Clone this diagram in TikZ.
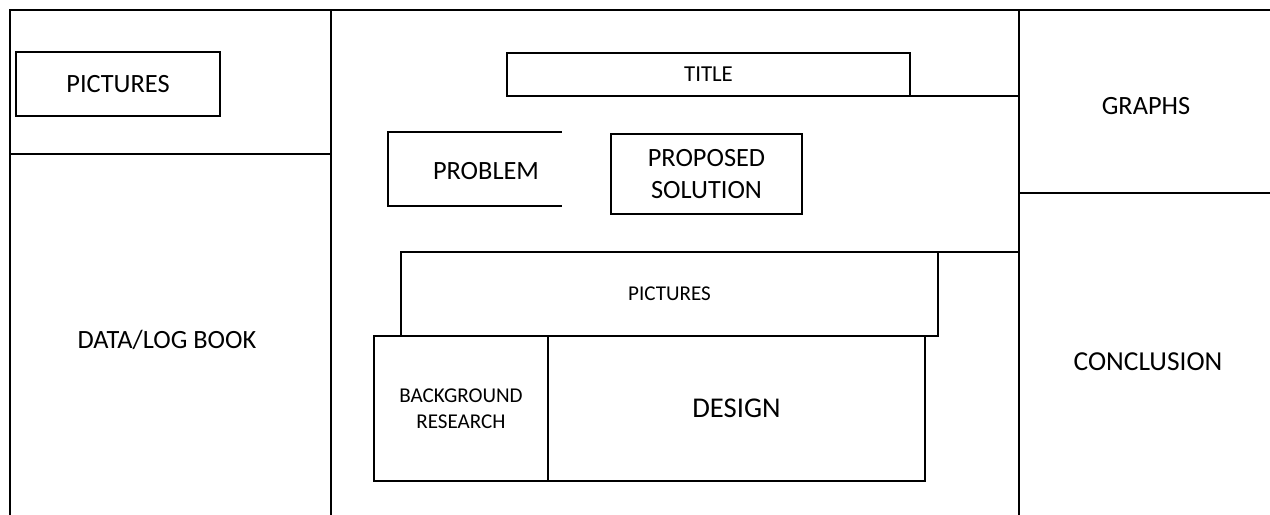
\documentclass[tikz,border=0pt]{standalone}
\usepackage{fontspec}
\setmainfont{Carlito}
\usetikzlibrary{positioning,calc}

\begin{document}
\begin{tikzpicture}[
  x=0.02cm, y=-0.02cm,
  frame/.style={line width=1.3pt, line cap=rect},
  box/.style={rectangle, draw, line width=1.3pt, inner sep=0pt, outer sep=0pt,
              align=center},
  lbl/.style={inner sep=0pt, align=center},
  big/.style={font=\fontsize{15}{18}\selectfont},
  small/.style={font=\fontsize{12}{14.8}\selectfont}
]
\useasboundingbox (0,0) rectangle (1270,514);

% Panel corners
\coordinate (nw) at (10,10);
\coordinate (ne) at (1270,10);
\coordinate (sw) at (10,514);
\coordinate (cl) at (331,10);
\coordinate (cr) at (1019,10);

% Panels
\draw[frame] (sw) -- (nw) -- (ne);
\draw[frame] (cl) -- (cl |- sw);
\draw[frame] (cr) -- (cr |- sw);
\draw[frame] (10,154) -- (331,154);
\draw[frame] (1019,193) -- (1270,193);

% Left panel
\node[box, big, minimum width=4.08cm, minimum height=1.28cm] (picsl) at (118,84) {PICTURES};
\node[lbl, big] (data) at (167,340) {DATA/LOG BOOK};

% Right panel
\node[lbl, big] (graphs) at (1146,106) {GRAPHS};
\node[lbl, font=\fontsize{15.6}{18}\selectfont] (concl) at (1148,362) {CONCLUSION};

% Center panel
\node[box, font=\fontsize{13}{16}\selectfont, minimum width=8.06cm, minimum height=0.86cm]
  (title) at (708.5,74.5) {TITLE};
\draw[frame] (title.south east) -- (title.south east -| cr);

\node[lbl, big] (problem) at (486,171) {PROBLEM};
\draw[frame] (561,132) -| (388,206) -- (561,206);

\node[box, big, minimum width=3.82cm, minimum height=1.6cm] (sol) at (706.5,174)
  {PROPOSED\\SOLUTION};

\node[box, small, minimum width=10.74cm, minimum height=1.68cm] (picsc) at (669.5,294) {PICTURES};
\draw[frame] (picsc.north east) -- (picsc.north east -| cr);

\node[box, small, minimum width=3.48cm, minimum height=2.9cm] (bgres) at (461,408.5)
  {BACKGROUND\\RESEARCH};
\node[box, font=\fontsize{16.3}{19}\selectfont, minimum width=7.54cm, minimum height=2.9cm,
      right=0pt of bgres] (design) {DESIGN};
\end{tikzpicture}
\end{document}
